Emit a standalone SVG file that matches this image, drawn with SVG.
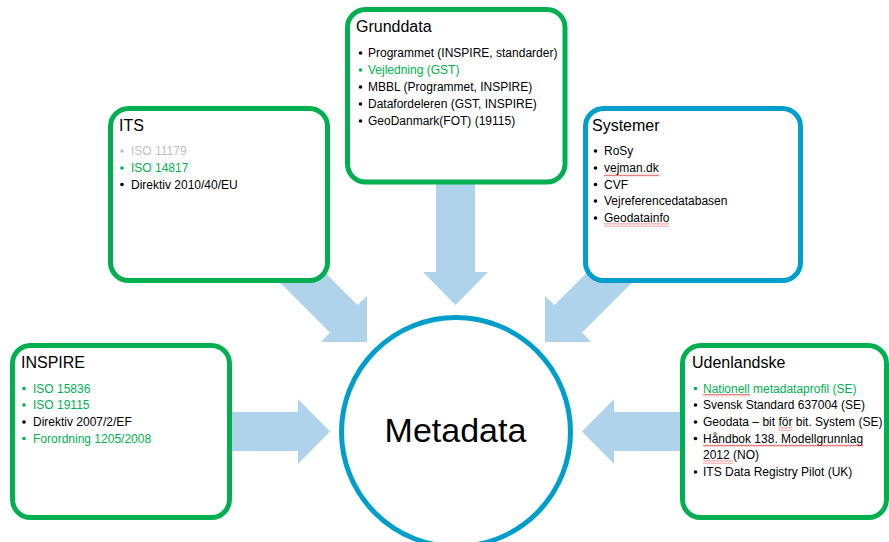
<svg xmlns="http://www.w3.org/2000/svg" width="889" height="542" viewBox="0 0 889 542">
<style>
  .box { fill: #fff; stroke-width: 5; }
  .green { stroke: #00B050; }
  .blue { stroke: #009ECA; }
  .arrow { fill: #AED3EA; stroke: none; }
  .title { font-family: "Liberation Sans", Arial, sans-serif; font-size: 16px; fill: #000; }
  .item { font-family: "Liberation Sans", Arial, sans-serif; font-size: 12px; fill: #000; }
  .g { fill: #00B050; }
  .gr { fill: #BFBFBF; }
  .big { font-family: "Liberation Sans", Arial, sans-serif; font-size: 34px; fill: #000; text-anchor: middle; }
  .sq { fill: url(#squig); }
</style>
<defs>
  <pattern id="squig" patternUnits="userSpaceOnUse" width="4" height="3">
    <polyline points="0,2.5 1,0.8 2,2.5 3,0.8 4,2.5" fill="none" stroke="#E04040" stroke-width="0.7"/>
  </pattern>
</defs>

<g id="connectors">
  <polygon class="arrow" points="436,150 475,150 475,272 488,272 455.5,305 423,272 436,272"/>
  <polygon class="arrow" points="200,412 298,412 298,399 330,431.5 298,464 298,451 200,451"/>
  <polygon class="arrow" points="712,412 614,412 614,399 582,431.5 614,464 614,451 712,451"/>
  <polygon class="arrow" points="272.6,220 357.5,304.9 367,296 367,342 321,342 329.9,332.5 245,247.6"/>
  <polygon class="arrow" points="639.4,220 554.5,304.9 545,296 545,342 591,342 582.1,332.5 667,247.6"/>
</g>

<g id="grunddata">
  <rect class="box green" x="347.5" y="9.5" width="217.5" height="172.5" rx="18"/>
  <text class="title" x="356" y="32">Grunddata</text>
  <circle cx="360.5" cy="53" r="1.8"/>
  <text class="item" x="368" y="57">Programmet (INSPIRE, standarder)</text>
  <circle cx="360.5" cy="70" r="1.8" class="g"/>
  <text class="item g" x="368" y="74">Vejledning (GST)</text>
  <circle cx="360.5" cy="87" r="1.8"/>
  <text class="item" x="368" y="91">MBBL (Programmet, INSPIRE)</text>
  <circle cx="360.5" cy="104" r="1.8"/>
  <text class="item" x="368" y="108">Datafordeleren (GST, INSPIRE)</text>
  <circle cx="360.5" cy="121" r="1.8"/>
  <text class="item" x="368" y="125">GeoDanmark(FOT) (19115)</text>
</g>

<g id="its">
  <rect class="box green" x="110.5" y="108.5" width="217" height="172" rx="18"/>
  <text class="title" x="119" y="131">ITS</text>
  <circle cx="122" cy="151" r="1.8" class="gr"/>
  <text class="item gr" x="131" y="155">ISO 11179</text>
  <circle cx="122" cy="168" r="1.8" class="g"/>
  <text class="item g" x="131" y="172">ISO 14817</text>
  <circle cx="122" cy="184.5" r="1.8"/>
  <text class="item" x="131" y="188.5">Direktiv 2010/40/EU</text>
</g>

<g id="systemer">
  <rect class="box blue" x="585.5" y="108.5" width="215" height="172" rx="18"/>
  <text class="title" x="592" y="131">Systemer</text>
  <circle cx="595.5" cy="151" r="1.8"/>
  <text class="item" x="604" y="155">RoSy</text>
  <circle cx="595.5" cy="168" r="1.8"/>
  <text class="item" x="604" y="172">vejman.dk</text>
  <rect class="sq" x="604" y="173.5" width="55" height="3"/>
  <circle cx="595.5" cy="184.5" r="1.8"/>
  <text class="item" x="604" y="188.5">CVF</text>
  <circle cx="595.5" cy="201" r="1.8"/>
  <text class="item" x="604" y="205">Vejreferencedatabasen</text>
  <circle cx="595.5" cy="218" r="1.8"/>
  <text class="item" x="604" y="222">Geodatainfo</text>
  <rect class="sq" x="604" y="223.5" width="65" height="3"/>
</g>

<g id="inspire">
  <rect class="box green" x="12.5" y="345.5" width="217" height="172" rx="18"/>
  <text class="title" x="21" y="368">INSPIRE</text>
  <circle cx="24" cy="388.5" r="1.8" class="g"/>
  <text class="item g" x="33" y="392.5">ISO 15836</text>
  <circle cx="24" cy="405" r="1.8" class="g"/>
  <text class="item g" x="33" y="409">ISO 19115</text>
  <circle cx="24" cy="422" r="1.8"/>
  <text class="item" x="33" y="426">Direktiv 2007/2/EF</text>
  <circle cx="24" cy="438.5" r="1.8" class="g"/>
  <text class="item g" x="33" y="442.5">Forordning 1205/2008</text>
</g>

<g id="udenlandske">
  <rect class="box green" x="682.5" y="345.5" width="204" height="172" rx="18"/>
  <text class="title" x="692" y="368">Udenlandske</text>
  <circle cx="695.5" cy="388.5" r="1.8" class="g"/>
  <text class="item g" x="703" y="392.5">Nationell metadataprofil (SE)</text>
  <rect class="sq" x="703" y="394" width="47" height="3"/>
  <circle cx="695.5" cy="405" r="1.8"/>
  <text class="item" x="703" y="409">Svensk Standard 637004 (SE)</text>
  <circle cx="695.5" cy="422" r="1.8"/>
  <text class="item" x="703" y="426">Geodata – bit för bit. System (SE)</text>
  <rect class="sq" x="778" y="427.5" width="14" height="3"/>
  <circle cx="695.5" cy="438.5" r="1.8"/>
  <text class="item" x="703" y="442.5">Håndbok 138. Modellgrunnlag</text>
  <rect class="sq" x="703" y="444" width="160" height="3"/>
  <text class="item" x="703" y="459">2012 (NO)</text>
  <rect class="sq" x="703" y="460.5" width="30" height="3"/>
  <circle cx="695.5" cy="472" r="1.8"/>
  <text class="item" x="703" y="476">ITS Data Registry Pilot (UK)</text>
</g>

<g id="metadata">
  <circle cx="456" cy="432" r="114.5" fill="#fff" stroke="#009ECA" stroke-width="5"/>
  <text class="big" x="455.5" y="442">Metadata</text>
</g>
</svg>
